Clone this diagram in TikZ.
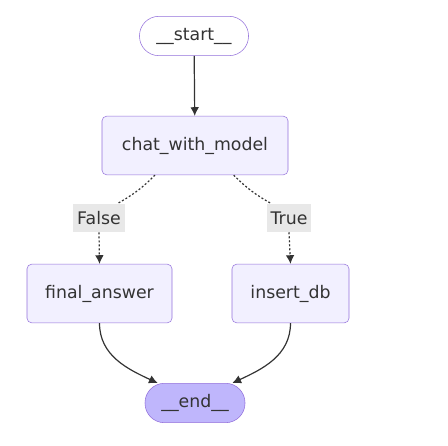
\documentclass[tikz,border=0pt]{standalone}
\usepackage{fontspec}
\setmainfont{DejaVu Sans}
\usetikzlibrary{arrows.meta}
\usepackage{xcolor}
\definecolor{boxfill}{HTML}{F2F0FF}
\definecolor{boxline}{HTML}{9370DB}
\definecolor{endfill}{HTML}{BFB6FC}
\definecolor{labelfill}{HTML}{E8E8E8}
\definecolor{txt}{HTML}{333333}

\begin{document}
\begin{tikzpicture}[x=0.75pt,y=-0.75pt]

		\tikzset{step box/.style = {shape=rectangle,draw=boxline,fill=boxfill,rounded corners=3.5pt,
			minimum height=44pt,inner sep=0pt,text=txt,font=\fontsize{13}{15}\selectfont}}
		\tikzset{pill/.style = {step box,rounded corners=14.5pt,minimum height=29.5pt}}
		\tikzset{cond/.style = {fill=labelfill,text=txt,inner xsep=3pt,minimum height=21pt,font=\fontsize{13}{15}\selectfont}}
		\tikzset{edge/.style = {-{Latex[length=6.5pt,width=6.5pt]},draw=txt,line width=0.9pt}}
		\tikzset{dotedge/.style = {edge,dash pattern=on 1.5pt off 1.5pt}}
		\useasboundingbox (0,0) rectangle (448,445);
		\node[pill,fill=white,minimum width=81.75pt] (start) at (194,36) {\_\_start\_\_};
		\node[step box,minimum width=139.5pt] (chat) at (195,145.5) {chat\_with\_model};
		\node[step box,minimum width=108.75pt] (final) at (99.5,293.5) {final\_answer};
		\node[step box,minimum width=87.75pt] (insert) at (290.5,293.5) {insert\_db};
		\node[pill,fill=endfill,minimum width=75pt] (end) at (195,403) {\_\_end\_\_};
		\node[cond] (false) at (99,218) {False};
		\node[cond] (true) at (289,218) {True};
		%edges
		\draw[edge] (start) to (chat);
		\draw[dotedge,-] ([xshift=-30pt]chat.south) to[bend left=8] ([xshift=-6pt]false.north east);
		\draw[dotedge] (false.south) to (final.north);
		\draw[dotedge,-] ([xshift=29pt]chat.south) to[bend right=8] ([xshift=4pt]true.north west);
		\draw[dotedge] (true.south) to (insert.north);
		\draw[edge] (final.south) to[out=-90,in=155] ([xshift=-28pt]end.north);
		\draw[edge] (insert.south) to[out=-90,in=25] ([xshift=28pt]end.north);
		\end{tikzpicture}
\end{document}
